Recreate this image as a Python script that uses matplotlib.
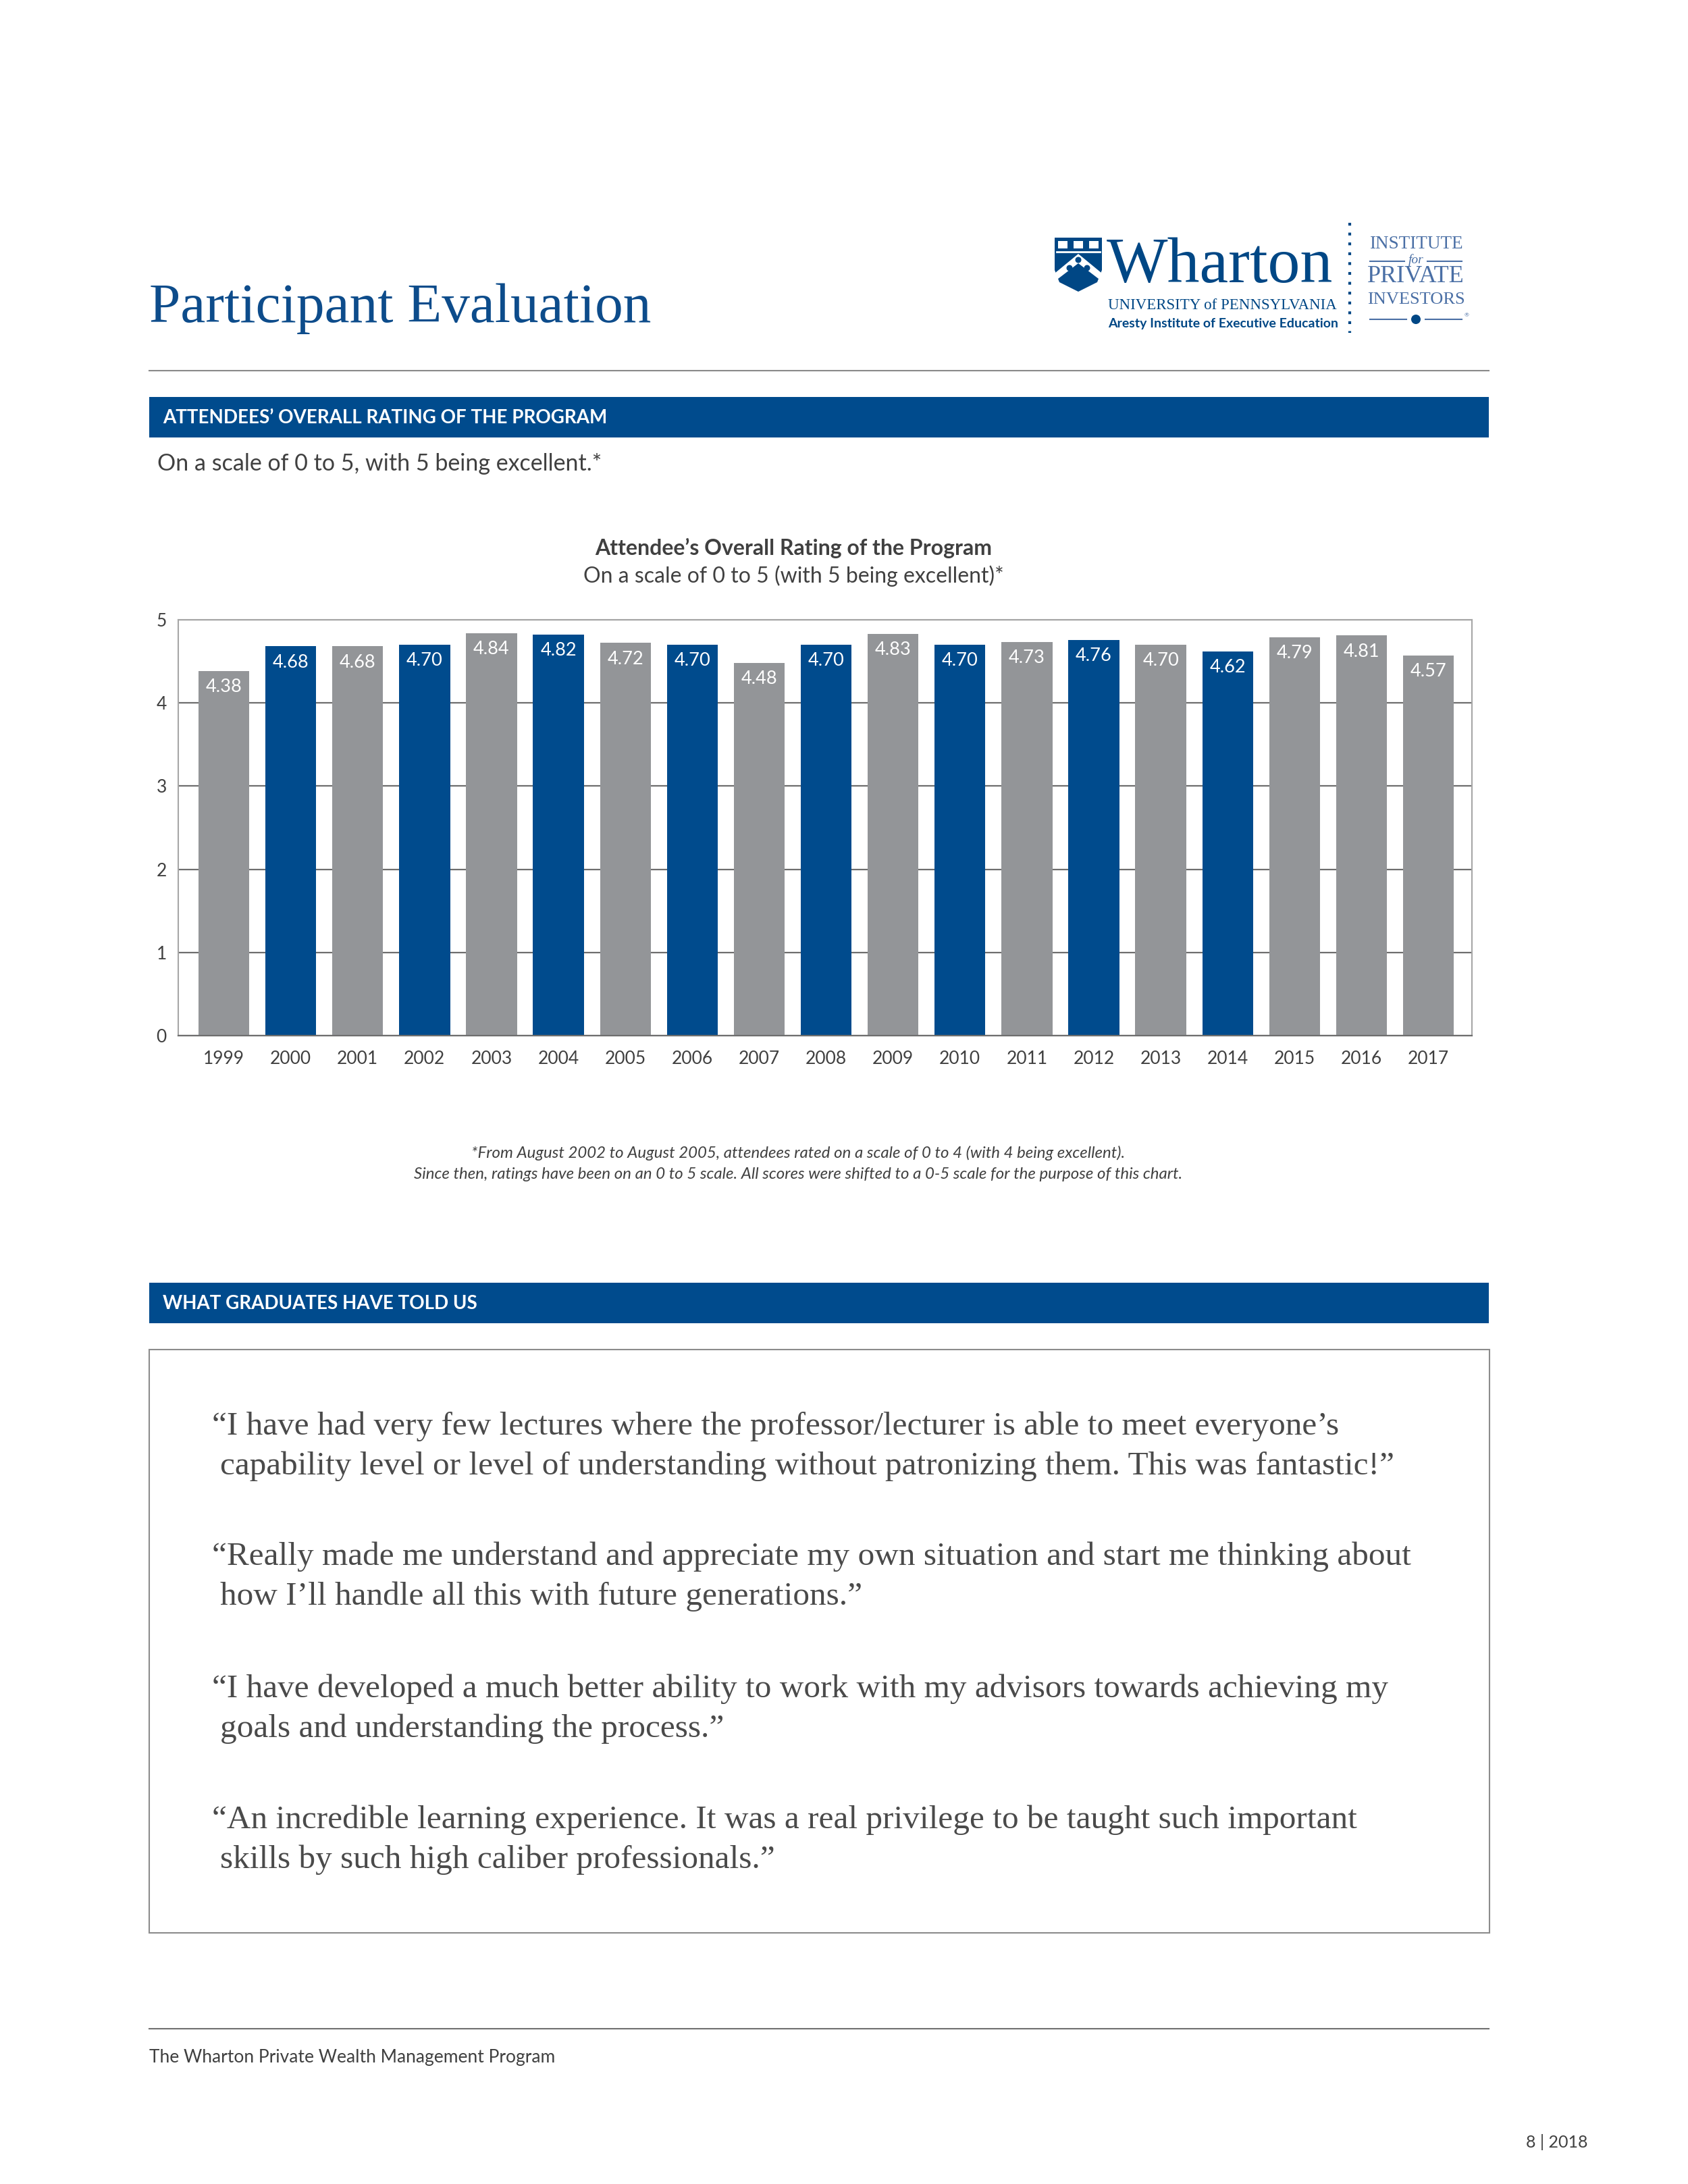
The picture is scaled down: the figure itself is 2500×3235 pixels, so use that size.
import matplotlib.pyplot as plt
from matplotlib.patches import Rectangle, Polygon, Circle
import numpy as np

plt.rcParams['font.family'] = ['Lato', 'DejaVu Sans']

# data
years = ['1999', '2000', '2001', '2002', '2003', '2004', '2005', '2006', '2007', '2008',
         '2009', '2010', '2011', '2012', '2013', '2014', '2015', '2016', '2017']
ratings = [4.38, 4.68, 4.68, 4.70, 4.84, 4.82, 4.72, 4.70, 4.48, 4.70,
           4.83, 4.70, 4.73, 4.76, 4.70, 4.62, 4.79, 4.81, 4.57]
highlight = [False, True, False, True, False, True, False, True, False, True,
             False, True, False, True, False, True, False, False, False]
y_ticks = [0, 1, 2, 3, 4, 5]

quotes = [
    ("\u201cI have had very few lectures where the professor/lecturer is able to meet everyone\u2019s",
     "capability level or level of understanding without patronizing them. This was fantastic!\u201d"),
    ("\u201cReally made me understand and appreciate my own situation and start me thinking about",
     "how I\u2019ll handle all this with future generations.\u201d"),
    ("\u201cI have developed a much better ability to work with my advisors towards achieving my",
     "goals and understanding the process.\u201d"),
    ("\u201cAn incredible learning experience. It was a real privilege to be taught such important",
     "skills by such high caliber professionals.\u201d"),
]

BLUE = '#004b8d'
GREY = '#939598'
DARK = '#404040'
W, H = 2500, 3235

fig = plt.figure(figsize=(25, 32.35), dpi=100)
fig.patch.set_facecolor('white')

# page layer in pixel coordinates
page = fig.add_axes([0, 0, 1, 1])
page.set_xlim(0, W)
page.set_ylim(H, 0)
page.axis('off')

serif = 'Liberation Serif'

# header
page.text(221, 457, 'Participant Evaluation', family=serif, fontsize=60,
          color='#0d4c8b', va='center', ha='left')

# logo
shield = Polygon([(1562, 352), (1632, 352), (1632, 400), (1625, 418), (1597, 432),
                  (1569, 418), (1562, 400)], closed=True, fc='#004785', ec='none')
page.add_patch(shield)
page.plot([1565, 1629], [373, 373], color='white', lw=2)
for cx in (1574, 1597, 1620):
    page.add_patch(Rectangle((cx - 7, 357), 14, 11, fc='white', ec='none'))
page.add_patch(Polygon([(1597, 376), (1631, 404), (1631, 416), (1597, 390),
                        (1563, 416), (1563, 404)], closed=True, fc='white', ec='none'))
for cx, cy in ((1597, 385), (1584, 397), (1610, 397)):
    page.add_patch(Circle((cx, cy), 4.5, fc='#004785', ec='none'))
page.text(1639, 418, 'Wharton', family=serif, fontsize=69, color='#004785',
          ha='left', va='baseline')
page.text(1641, 452, 'UNIVERSITY of PENNSYLVANIA', family=serif, fontsize=16.5,
          color='#004785', ha='left', va='center')
page.text(1641, 480, 'Aresty Institute of Executive Education', fontsize=14,
          fontweight='bold', color='#004785', ha='left', va='center')
page.plot([1999, 1999], [330, 493], color='#004785', lw=3, ls=(0, (1, 2.5)))
inst = '#4a6fa5'
page.text(2097, 362, 'INSTITUTE', family=serif, fontsize=19.5, color=inst, ha='center', va='center')
page.text(2097, 385, 'for', family=serif, fontsize=14, style='italic', color=inst,
          ha='center', va='center')
page.plot([2029, 2080], [387, 387], color=inst, lw=1.5)
page.plot([2114, 2165], [387, 387], color=inst, lw=1.5)
page.text(2097, 410, 'PRIVATE', family=serif, fontsize=26, color=inst, ha='center', va='center')
page.text(2097, 444, 'INVESTORS', family=serif, fontsize=19, color=inst, ha='center', va='center')
page.plot([2029, 2083], [473, 473], color=inst, lw=1.5)
page.plot([2111, 2165], [473, 473], color=inst, lw=1.5)
page.add_patch(Circle((2097, 473), 7, fc='#004785', ec='none'))
page.text(2172, 467, '\u00ae', fontsize=6, color=inst, ha='center', va='center')

page.plot([221, 2205], [549, 549], color='#8a8a8a', lw=1.5)

# section 1
page.add_patch(Rectangle((221, 588), 1984, 60, fc=BLUE, ec='none'))
page.text(241, 619, 'ATTENDEES\u2019 OVERALL RATING OF THE PROGRAM', fontsize=20,
          fontweight='bold', color='white', ha='left', va='center')
page.text(233, 687, 'On a scale of 0 to 5, with 5 being excellent.*', fontsize=24.5,
          color=DARK, ha='left', va='center')

page.text(1175, 812, 'Attendee\u2019s Overall Rating of the Program', fontsize=23,
          fontweight='bold', color=DARK, ha='center', va='center')
page.text(1175, 853, 'On a scale of 0 to 5 (with 5 being excellent)*', fontsize=23,
          color=DARK, ha='center', va='center')

# bar chart
ax = fig.add_axes([263.5 / W, (H - 1534) / H, (2180 - 263.5) / W, (1534 - 918) / H])
x = np.arange(len(years))
colors = [BLUE if h else GREY for h in highlight]
ax.bar(x, ratings, width=0.76, color=colors, zorder=2)
for xi, v in zip(x, ratings):
    ax.annotate(f'{v:.2f}', (xi, v), xytext=(0, -17), textcoords='offset points',
                ha='center', va='center', color='white', fontsize=19.5)
ax.set_xlim(-0.686, 18.65)
ax.set_ylim(0, 5)
ax.set_yticks(y_ticks)
ax.set_xticks(x)
ax.set_xticklabels(years)
ax.tick_params(axis='both', length=0, colors=DARK, labelsize=19)
ax.tick_params(axis='x', pad=16)
ax.tick_params(axis='y', pad=12)
ax.yaxis.grid(True, color='#6e6e6e', lw=1.6, zorder=1)
ax.set_axisbelow(True)
for side in ('top', 'right', 'left'):
    ax.spines[side].set_color('#a6a6a6')
    ax.spines[side].set_linewidth(1.5)
ax.spines['bottom'].set_color('#6e6e6e')
ax.spines['bottom'].set_linewidth(1.6)

# footnote
page.text(1182, 1708, '*From August 2002 to August 2005, attendees rated on a scale of 0 to 4 (with 4 being excellent).',
          fontsize=17.3, style='italic', color=DARK, ha='center', va='center')
page.text(1182, 1739, 'Since then, ratings have been on an 0 to 5 scale. All scores were shifted to a 0-5 scale for the purpose of this chart.',
          fontsize=17.3, style='italic', color=DARK, ha='center', va='center')

# section 2
page.add_patch(Rectangle((221, 1900), 1984, 60, fc=BLUE, ec='none'))
page.text(241, 1931, 'WHAT GRADUATES HAVE TOLD US', fontsize=20, fontweight='bold',
          color='white', ha='left', va='center')
page.add_patch(Rectangle((221, 1999), 1985, 864, fc='none', ec='#8c8c8c', lw=1.5))

quote_y = [2113, 2306, 2502, 2696]
for (l1, l2), qy in zip(quotes, quote_y):
    page.text(314, qy, l1, family=serif, fontsize=35.5, color='#4a4a4a', ha='left', va='center')
    page.text(326, qy + 59, l2, family=serif, fontsize=35.5, color='#4a4a4a', ha='left', va='center')

# footer
page.plot([221, 2205], [3005, 3005], color='#707070', lw=1.5)
page.text(221, 3048, 'The Wharton Private Wealth Management Program', fontsize=19,
          color=DARK, ha='left', va='center')
page.text(2352, 3173, '8 | 2018', fontsize=18, color=DARK, ha='right', va='center')

fig.savefig('out.png', dpi=100)
